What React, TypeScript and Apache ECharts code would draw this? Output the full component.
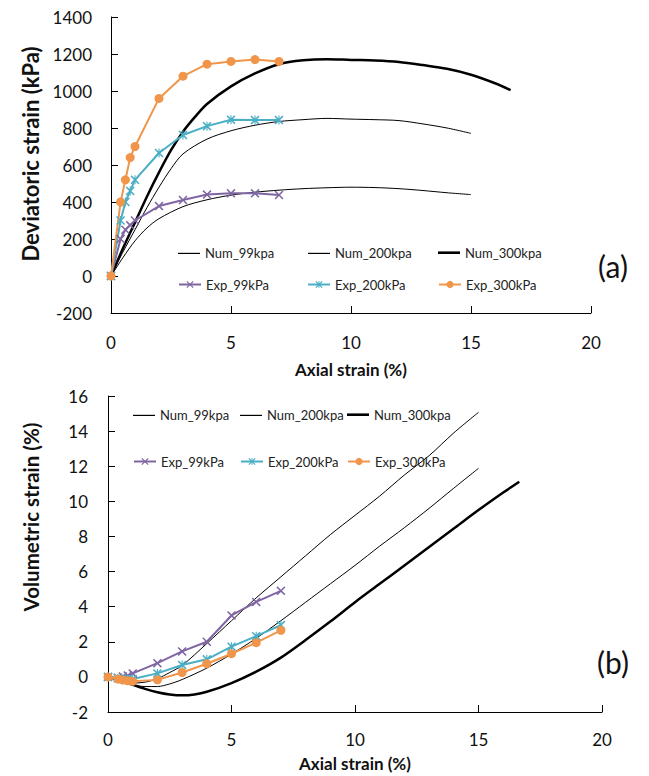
import React, { useEffect, useRef } from "react";
import * as echarts from "echarts";

const FONT = "Lato, 'Open Sans', sans-serif";

// Experimental strains (%)
const expStrain = [0, 0.4, 0.6, 0.8, 1, 2, 3, 4, 5, 6, 7];
// (a) Deviatoric (kPa)
const expDev99 = [0, 200, 250, 275, 300, 378, 411, 440, 447, 447, 438];
const expDev200 = [0, 300, 400, 460, 520, 665, 762, 810, 845, 843, 843];
const expDev300 = [0, 400, 520, 640, 700, 960, 1080, 1145, 1160, 1170, 1160];
// (b) Volumetric (%)
const expVol99 = [0, -0.05, 0.02, 0.08, 0.2, 0.78, 1.45, 2.0, 3.5, 4.27, 4.9];
const expVol200 = [0, -0.08, -0.12, -0.14, -0.12, 0.2, 0.68, 1.0, 1.72, 2.32, 2.95];
const expVol300 = [0, -0.12, -0.18, -0.22, -0.25, -0.17, 0.25, 0.75, 1.32, 1.95, 2.65];

// Numerical curves (a)
const numDevX99 = [0, 0.5, 1, 1.5, 2, 3, 4, 5, 6, 7, 8, 9, 10, 11, 12, 13, 14, 15];
const numDev99 = [0, 100, 190, 260, 310, 375, 412, 437, 453, 464, 472, 477, 480, 478, 472, 462, 450, 440];
const numDevX200 = [0, 0.5, 1, 1.5, 2, 2.5, 3, 4, 5, 6, 7, 8, 9, 10, 11, 12, 13, 14, 15];
const numDev200 = [0, 130, 250, 370, 480, 580, 660, 740, 785, 815, 835, 845, 852, 848, 845, 840, 822, 800, 771];
const numDevX300 = [0, 0.5, 1, 1.5, 2, 2.5, 3, 3.5, 4, 5, 6, 7, 8, 9, 10, 11, 12, 13, 14, 15, 16, 16.65];
const numDev300 = [0, 150, 290, 430, 560, 680, 780, 860, 930, 1025, 1095, 1145, 1166, 1172, 1168, 1165, 1157, 1140, 1120, 1088, 1042, 1005];

// Numerical curves (b)
const numVolX99 = [0, 0.5, 1, 1.5, 2, 2.5, 3, 4, 5, 6, 7, 8, 9, 10, 11, 12, 13, 14, 15];
const numVol99 = [0, -0.25, -0.35, -0.3, -0.1, 0.25, 0.65, 1.9, 3.2, 4.5, 5.7, 6.9, 8.1, 9.2, 10.3, 11.5, 12.6, 13.9, 15.07];
const numVolX200 = [0, 0.5, 1, 1.5, 2, 2.5, 3, 4, 5, 6, 7, 8, 9, 10, 11, 12, 13, 14, 15];
const numVol200 = [0, -0.25, -0.45, -0.55, -0.55, -0.4, -0.15, 0.5, 1.3, 2.2, 3.2, 4.25, 5.3, 6.35, 7.45, 8.5, 9.6, 10.75, 11.88];
const numVolX300 = [0, 0.5, 1, 1.5, 2, 2.5, 3, 3.5, 4, 5, 6, 7, 8, 9, 10, 11, 12, 13, 14, 15, 16, 16.65];
const numVol300 = [0, -0.2, -0.45, -0.68, -0.87, -1.0, -1.05, -1.0, -0.85, -0.35, 0.3, 1.1, 2.1, 3.15, 4.25, 5.3, 6.35, 7.4, 8.45, 9.5, 10.5, 11.12];

const NAMES = {
  n99: "Num_99kpa",
  n200: "Num_200kpa",
  n300: "Num_300kpa",
  e99: "Exp_99kPa",
  e200: "Exp_200kPa",
  e300: "Exp_300kPa",
};

const PURPLE = "#7f66a3";
const CYAN = "#4aaec4";
const ORANGE = "#f0954a";

const X_SYMBOL = "path://M0,1.2L1.2,0L5,3.8L8.8,0L10,1.2L6.2,5L10,8.8L8.8,10L5,6.2L1.2,10L0,8.8L3.8,5Z";
const STAR_SYMBOL =
  "path://M0,1.2L1.2,0L5,3.8L8.8,0L10,1.2L6.2,5L10,8.8L8.8,10L5,6.2L1.2,10L0,8.8L3.8,5Z M4.4,0L5.6,0L5.6,10L4.4,10Z";

const zip = (xs: number[], ys: number[]) => xs.map((x, i) => [x, ys[i]]);

function numSeries(name: string, xs: number[], ys: number[], width: number, idx: number) {
  return {
    type: "line",
    name,
    xAxisIndex: idx,
    yAxisIndex: idx,
    data: zip(xs, ys),
    symbol: "none",
    showSymbol: false,
    smooth: 0.3,
    lineStyle: { color: "#000", width },
    itemStyle: { color: "#000" },
    z: 2,
  };
}

function expSeries(name: string, ys: number[], color: string, symbol: string, size: number, idx: number) {
  return {
    type: "line",
    name,
    xAxisIndex: idx,
    yAxisIndex: idx,
    data: zip(expStrain, ys),
    symbol,
    symbolSize: size,
    lineStyle: { color, width: 2 },
    itemStyle: { color },
    z: 3,
  };
}

const TEXT = { fontFamily: FONT, fontSize: 13, color: "#222" };

function legExp(name: string, left: number, top: number) {
  return {
    data: [name],
    left,
    top,
    padding: 0,
    itemWidth: 22,
    itemHeight: 9,
    itemGap: 0,
    selectedMode: false,
    textStyle: TEXT,
  };
}

function legNum(name: string, left: number, top: number, thick: number) {
  return {
    data: [{ name, icon: "rect" }],
    left,
    top: top + (9 - thick) / 2,
    padding: 0,
    itemWidth: 22,
    itemHeight: thick,
    itemGap: 0,
    selectedMode: false,
    itemStyle: { color: "#000" },
    textStyle: TEXT,
  };
}

function xAxis(idx: number, margin: number, nameGap: number) {
  return {
    type: "value",
    gridIndex: idx,
    min: 0,
    max: 20,
    interval: 5,
    name: "Axial strain (%)",
    nameLocation: "middle",
    nameGap,
    nameTextStyle: { fontFamily: FONT, fontSize: 17, fontWeight: "bold", color: "#111" },
    axisLine: { onZero: false, lineStyle: { color: "#000", width: 1 } },
    axisTick: { inside: true, length: 7, lineStyle: { color: "#000" } },
    axisLabel: { margin, fontFamily: FONT, fontSize: 17, color: "#111", formatter: (v: number) => String(v) },
    splitLine: { show: false },
  };
}

function yAxis(idx: number, min: number, max: number, interval: number, margin: number) {
  return {
    type: "value",
    gridIndex: idx,
    min,
    max,
    interval,
    axisLine: { show: true, onZero: false, lineStyle: { color: "#000", width: 1 } },
    axisTick: { show: true, inside: true, length: 7, lineStyle: { color: "#000" } },
    axisLabel: { margin, fontFamily: FONT, fontSize: 17, color: "#111", formatter: (v: number) => String(v) },
    splitLine: { show: false },
  };
}

export default function App() {
  const ref = useRef<HTMLDivElement>(null);

  useEffect(() => {
    document.body.style.margin = "0";
    if (!ref.current) return;
    const chart = echarts.init(ref.current, undefined, { renderer: "svg" });
    const option = {
      animation: false,
      backgroundColor: "#fff",
      grid: [
        { left: 111, top: 17, width: 480, height: 296 },
        { left: 108, top: 396, width: 494, height: 316 },
      ],
      xAxis: [xAxis(0, 21, 48), xAxis(1, 19, 43)],
      yAxis: [yAxis(0, -200, 1400, 200, 19), yAxis(1, -2, 16, 2, 20)],
      legend: [
        legNum(NAMES.n99, 178, 243, 1.2),
        legNum(NAMES.n200, 308, 243, 1.2),
        legNum(NAMES.n300, 438, 243, 2.6),
        legExp(NAMES.e99, 178, 278),
        legExp(NAMES.e200, 307, 278),
        legExp(NAMES.e300, 438, 278),
        legNum(NAMES.n99, 133, 405, 1.2),
        legNum(NAMES.n200, 240, 405, 1.2),
        legNum(NAMES.n300, 347, 405, 2.6),
        legExp(NAMES.e99, 133, 455),
        legExp(NAMES.e200, 240, 455),
        legExp(NAMES.e300, 347, 455),
      ],
      graphic: [
        {
          type: "text",
          x: 30,
          y: 154,
          rotation: Math.PI / 2,
          style: {
            text: "Deviatoric strain (kPa)",
            fontFamily: FONT,
            fontSize: 22,
            fontWeight: "bold",
            fill: "#111",
            align: "center",
            verticalAlign: "middle",
          },
        },
        {
          type: "text",
          x: 31,
          y: 517,
          rotation: Math.PI / 2,
          style: {
            text: "Volumetric strain (%)",
            fontFamily: FONT,
            fontSize: 20.5,
            fontWeight: "bold",
            fill: "#111",
            align: "center",
            verticalAlign: "middle",
          },
        },
        {
          type: "text",
          x: 613,
          y: 266,
          style: { text: "(a)", fontFamily: FONT, fontSize: 30, fill: "#111", align: "center", verticalAlign: "middle" },
        },
        {
          type: "text",
          x: 613,
          y: 662,
          style: { text: "(b)", fontFamily: FONT, fontSize: 30, fill: "#111", align: "center", verticalAlign: "middle" },
        },
      ],
      series: [
        numSeries(NAMES.n99, numDevX99, numDev99, 1, 0),
        numSeries(NAMES.n200, numDevX200, numDev200, 1, 0),
        numSeries(NAMES.n300, numDevX300, numDev300, 2.5, 0),
        expSeries(NAMES.e99, expDev99, PURPLE, X_SYMBOL, 9, 0),
        expSeries(NAMES.e200, expDev200, CYAN, STAR_SYMBOL, 9, 0),
        expSeries(NAMES.e300, expDev300, ORANGE, "circle", 9, 0),
        numSeries(NAMES.n99, numVolX99, numVol99, 1, 1),
        numSeries(NAMES.n200, numVolX200, numVol200, 1, 1),
        numSeries(NAMES.n300, numVolX300, numVol300, 2.5, 1),
        expSeries(NAMES.e99, expVol99, PURPLE, X_SYMBOL, 9, 1),
        expSeries(NAMES.e200, expVol200, CYAN, STAR_SYMBOL, 9, 1),
        expSeries(NAMES.e300, expVol300, ORANGE, "circle", 9, 1),
      ],
    };
    chart.setOption(option as any);
    return () => chart.dispose();
  }, []);

  return <div ref={ref} style={{ width: 649, height: 776, background: "#fff" }} />;
}
